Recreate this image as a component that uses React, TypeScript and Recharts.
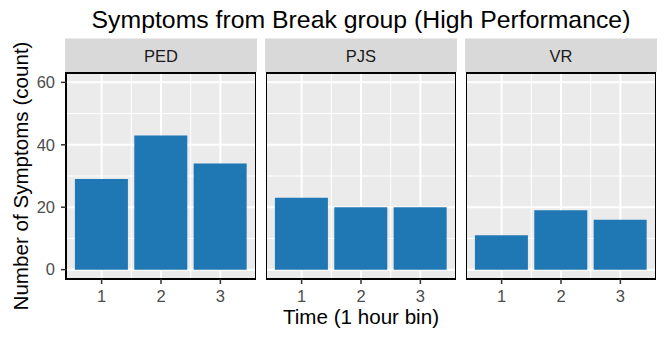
import React from 'react';
import { BarChart, Bar, XAxis, YAxis, CartesianGrid, ReferenceArea } from 'recharts';

// Time bins (1 hour each) and symptom counts per facet
const times = [1, 2, 3];
const facetNames = ['PED', 'PJS', 'VR'];
const pedCounts = [29, 43, 34];
const pjsCounts = [23, 20, 20];
const vrCounts = [11, 19, 16];
const facetCounts = [pedCounts, pjsCounts, vrCounts];

const yTicks = [0, 20, 40, 60];
const yMinor = [10, 30, 50];
const xTicks = [1, 2, 3];
const xMinor = [1.5, 2.5];
const yDomain = [-3, 63];
const xDomain = [0.4, 3.6];

const W = 667;
const H = 340;
const FONT = '"Liberation Sans", Arial, Helvetica, sans-serif';
const PANEL_TOP = 73;
const PANEL_BOTTOM = 279;
const PANEL_W = 190;
const PANEL_LEFTS = [66, 266, 466];
const STRIP_TOP = 38.5;
const Y_AXIS_W = 66;
const BAR_FILL = '#1F77B4';
const TICK_FONT = 16.5;
const AXIS_TITLE_FONT = 20.6;
const TITLE_FONT = 24.8;

function Panel({ index }: { index: number }) {
  const counts = facetCounts[index];
  const data = times.map((t, i) => ({ time: t, count: counts[i] }));
  const first = index === 0;
  const left = first ? PANEL_LEFTS[0] - Y_AXIS_W : PANEL_LEFTS[index];
  const width = first ? PANEL_W + Y_AXIS_W : PANEL_W;
  const xAxisH = 30;
  return (
    <div style={{ position: 'absolute', left, top: 0 }}>
      <BarChart
        width={width}
        height={H}
        data={data}
        margin={{ top: PANEL_TOP, right: 0, left: 0, bottom: H - PANEL_BOTTOM - xAxisH }}
        barCategoryGap="5%"
      >
        <CartesianGrid
          fill="#EBEBEB"
          stroke="#FFFFFF"
          strokeWidth={1}
          strokeDasharray=""
          horizontalValues={yMinor}
          verticalValues={xMinor}
        />
        <CartesianGrid
          stroke="#FFFFFF"
          strokeWidth={2}
          strokeDasharray=""
          horizontalValues={yTicks}
          verticalValues={xTicks}
        />
        <XAxis
          dataKey="time"
          type="number"
          domain={xDomain}
          ticks={xTicks}
          allowDataOverflow
          height={xAxisH}
          axisLine={false}
          tickSize={5}
          tickMargin={6}
          tickLine={{ stroke: '#333333', strokeWidth: 1.5 }}
          tick={{ fill: '#4D4D4D', fontSize: TICK_FONT, fontFamily: FONT }}
        />
        <YAxis
          type="number"
          domain={yDomain}
          ticks={yTicks}
          allowDataOverflow
          interval={0}
          hide={!first}
          width={Y_AXIS_W}
          axisLine={false}
          tickSize={5}
          tickMargin={6}
          tickLine={{ stroke: '#333333', strokeWidth: 1.5 }}
          tick={{ fill: '#4D4D4D', fontSize: TICK_FONT, fontFamily: FONT }}
        />
        <Bar dataKey="count" fill={BAR_FILL} isAnimationActive={false} />
        <ReferenceArea
          x1={xDomain[0]}
          x2={xDomain[1]}
          y1={yDomain[0]}
          y2={yDomain[1]}
          fill="none"
          fillOpacity={0}
          stroke="#000000"
          strokeWidth={2}
        />
      </BarChart>
    </div>
  );
}

export default function App() {
  const plotCenterX = (PANEL_LEFTS[0] + PANEL_LEFTS[2] + PANEL_W) / 2;
  const plotCenterY = (PANEL_TOP + PANEL_BOTTOM) / 2;
  return (
    <div
      style={{
        position: 'absolute',
        left: 0,
        top: 0,
        width: W,
        height: H,
        background: '#FFFFFF',
        fontFamily: FONT,
        overflow: 'hidden',
      }}
    >
      <svg width={W} height={H} style={{ position: 'absolute', left: 0, top: 0 }}>
        <text x={plotCenterX} y={28} textAnchor="middle" fontSize={TITLE_FONT} fill="#000000" fontFamily={FONT}>
          Symptoms from Break group (High Performance)
        </text>
        <text x={plotCenterX} y={324} textAnchor="middle" fontSize={AXIS_TITLE_FONT} fill="#000000" fontFamily={FONT}>
          Time (1 hour bin)
        </text>
        <text
          x={0}
          y={0}
          transform={`translate(27.5, ${plotCenterY}) rotate(-90)`}
          textAnchor="middle"
          fontSize={AXIS_TITLE_FONT}
          fill="#000000"
          fontFamily={FONT}
        >
          Number of Symptoms (count)
        </text>
        {facetNames.map((name, i) => (
          <g key={name}>
            <rect
              x={PANEL_LEFTS[i] - 1}
              y={STRIP_TOP}
              width={PANEL_W + 2}
              height={PANEL_TOP - 1 - STRIP_TOP}
              fill="#D9D9D9"
            />
            <text
              x={PANEL_LEFTS[i] + PANEL_W / 2}
              y={62}
              textAnchor="middle"
              fontSize={TICK_FONT}
              fill="#1A1A1A"
              fontFamily={FONT}
            >
              {name}
            </text>
          </g>
        ))}
      </svg>
      {facetNames.map((name, i) => (
        <Panel key={name} index={i} />
      ))}
    </div>
  );
}
